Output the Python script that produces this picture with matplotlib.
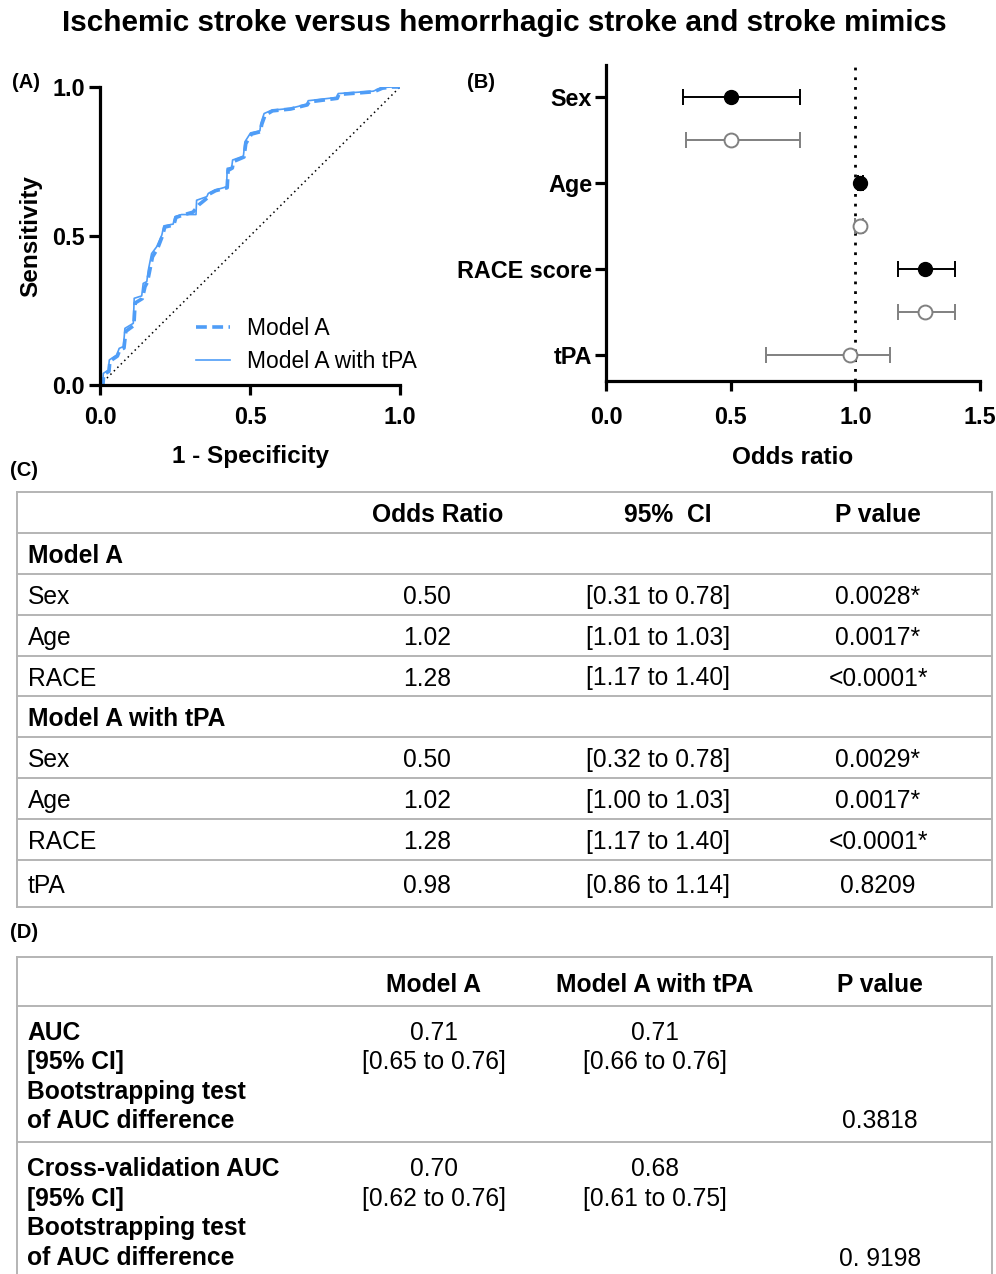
import matplotlib
matplotlib.use("Agg")
import matplotlib.pyplot as plt

plt.rcParams['font.family'] = ['Liberation Sans', 'DejaVu Sans']

W, H = 996, 1274

# ROC curve, Model A with tPA (solid)
fpr_tpa = [0.0, 0.009, 0.011, 0.028, 0.031, 0.056, 0.064, 0.078, 0.083, 0.111, 0.114,
           0.139, 0.144, 0.156, 0.161, 0.172, 0.189, 0.206, 0.213, 0.244, 0.250, 0.272,
           0.320, 0.322, 0.356, 0.361, 0.383, 0.422, 0.424, 0.439, 0.442, 0.478, 0.483,
           0.502, 0.533, 0.536, 0.547, 0.572, 0.633, 0.689, 0.694, 0.789, 0.794, 0.911,
           0.939, 0.972, 1.0]
tpr_tpa = [0.0, 0.0, 0.039, 0.050, 0.084, 0.101, 0.123, 0.129, 0.190, 0.207, 0.291,
           0.299, 0.341, 0.347, 0.385, 0.441, 0.464, 0.503, 0.534, 0.540, 0.565, 0.572,
           0.572, 0.620, 0.632, 0.643, 0.654, 0.665, 0.727, 0.730, 0.755, 0.768, 0.816,
           0.846, 0.853, 0.877, 0.911, 0.922, 0.928, 0.942, 0.954, 0.965, 0.978, 0.986,
           0.998, 1.0, 1.0]

# ROC curve, Model A (dashed)
fpr_a = [0.0, 0.010, 0.012, 0.030, 0.033, 0.058, 0.066, 0.080, 0.086, 0.113, 0.117,
         0.141, 0.150, 0.158, 0.165, 0.175, 0.192, 0.208, 0.216, 0.246, 0.253, 0.275,
         0.310, 0.330, 0.358, 0.363, 0.385, 0.424, 0.427, 0.441, 0.445, 0.480, 0.486,
         0.505, 0.535, 0.539, 0.550, 0.575, 0.635, 0.691, 0.697, 0.791, 0.796, 0.913,
         0.941, 0.974, 1.0]
tpr_a = [0.0, 0.0, 0.035, 0.046, 0.080, 0.097, 0.118, 0.124, 0.180, 0.200, 0.275,
         0.290, 0.330, 0.345, 0.380, 0.430, 0.458, 0.500, 0.530, 0.537, 0.562, 0.570,
         0.580, 0.605, 0.628, 0.640, 0.652, 0.662, 0.720, 0.728, 0.750, 0.765, 0.810,
         0.842, 0.850, 0.874, 0.905, 0.920, 0.926, 0.940, 0.950, 0.962, 0.975, 0.984,
         0.996, 1.0, 1.0]

# Forest plot
forest_labels = ["Sex", "Age", "RACE score", "tPA"]
or_model_a = [0.50, 1.02, 1.28]
lo_model_a = [0.31, 1.01, 1.17]
hi_model_a = [0.78, 1.03, 1.40]
or_model_tpa = [0.50, 1.02, 1.28, 0.98]
lo_model_tpa = [0.32, 1.00, 1.17, 0.64]
hi_model_tpa = [0.78, 1.03, 1.40, 1.14]

# Table C
c_header = ["Odds Ratio", "95%  CI", "P value"]
c_groups = ["Model A", "Model A with tPA"]
c_vars_a = ["Sex", "Age", "RACE"]
c_or_a = ["0.50", "1.02", "1.28"]
c_ci_a = ["[0.31 to 0.78]", "[1.01 to 1.03]", "[1.17 to 1.40]"]
c_p_a = ["0.0028*", "0.0017*", "<0.0001*"]
c_vars_b = ["Sex", "Age", "RACE", "tPA"]
c_or_b = ["0.50", "1.02", "1.28", "0.98"]
c_ci_b = ["[0.32 to 0.78]", "[1.00 to 1.03]", "[1.17 to 1.40]", "[0.86 to 1.14]"]
c_p_b = ["0.0029*", "0.0017*", "<0.0001*", "0.8209"]

# Table D
d_header = ["Model A", "Model A with tPA", "P value"]
d_row_labels = [["AUC", "[95% CI]", "Bootstrapping test", "of AUC difference"],
                ["Cross-validation AUC", "[95% CI]", "Bootstrapping test", "of AUC difference"]]
d_auc_a = ["0.71", "0.70"]
d_ci_a = ["[0.65 to 0.76]", "[0.62 to 0.76]"]
d_auc_tpa = ["0.71", "0.68"]
d_ci_tpa = ["[0.66 to 0.76]", "[0.61 to 0.75]"]
d_p = ["0.3818", "0. 9198"]

blue = '#4f9df7'
grid_col = '#b4b4b4'
FS = 17.7
DY = 2.5  # nudge so cap height sits centred in the row


def px_rect(left, top, right, bottom):
    return [left / W, 1 - bottom / H, (right - left) / W, (bottom - top) / H]


fig = plt.figure(figsize=(W / 100, H / 100), dpi=100)

# overlay in pixel coordinates for titles and tables
ov = fig.add_axes([0, 0, 1, 1], zorder=0)
ov.set_xlim(0, W)
ov.set_ylim(H, 0)
ov.axis('off')

ov.text(504, 23, "Ischemic stroke versus hemorrhagic stroke and stroke mimics",
        ha='center', va='center', fontsize=21.4, fontweight='bold')
for lab, x, y in [("(A)", 12, 83), ("(B)", 467, 82), ("(C)", 10, 470), ("(D)", 10, 933)]:
    ov.text(x, y, lab, ha='left', va='center', fontsize=14.5, fontweight='bold')

# ---- panel A: ROC
axA = fig.add_axes(px_rect(100, 87, 400, 385))
axA.plot([0, 1], [0, 1], color='black', ls=(0, (1, 2.2)), lw=1.1)
axA.plot(fpr_a, tpr_a, color=blue, lw=2.6, ls=(0, (3, 1.5)), label='Model A')
axA.plot(fpr_tpa, tpr_tpa, color=blue, lw=1.2, label='Model A with tPA')
axA.set_xlim(0, 1)
axA.set_ylim(0, 1)
axA.set_xticks([0, 0.5, 1.0])
axA.set_yticks([0, 0.5, 1.0])
axA.set_xticklabels(["0.0", "0.5", "1.0"])
axA.set_yticklabels(["0.0", "0.5", "1.0"])
for s in ['top', 'right']:
    axA.spines[s].set_visible(False)
for s in ['left', 'bottom']:
    axA.spines[s].set_linewidth(2.3)
axA.tick_params(axis='x', length=7, width=2.3, pad=8, labelsize=16.8)
axA.tick_params(axis='y', length=8, width=2.3, pad=3, labelsize=16.8)
for t in axA.get_xticklabels() + axA.get_yticklabels():
    t.set_fontweight('bold')
axA.set_xlabel("1 - Specificity", fontsize=17.5, fontweight='bold', labelpad=12)
axA.set_ylabel("Sensitivity", fontsize=17.5, fontweight='bold', labelpad=7)
axA.legend(loc='lower left', bbox_to_anchor=(0.25, -0.03), frameon=False, fontsize=16.5,
           handlelength=1.5, handletextpad=0.75, labelspacing=0.45)

# ---- panel B: forest plot
axB = fig.add_axes(px_rect(606, 65, 980, 381))
pos_filled = [7, 5, 3]
pos_open = [6, 4, 2, 1]
tick_pos = [7, 5, 3, 1]
xerr_a = [[o - l for o, l in zip(or_model_a, lo_model_a)],
          [h - o for o, h in zip(or_model_a, hi_model_a)]]
xerr_b = [[o - l for o, l in zip(or_model_tpa, lo_model_tpa)],
          [h - o for o, h in zip(or_model_tpa, hi_model_tpa)]]
axB.axvline(1.0, color='black', ls=(0, (1, 2.5)), lw=2.0, zorder=1)
axB.errorbar(or_model_a, pos_filled, xerr=xerr_a, fmt='o', color='black', ms=10,
             capsize=6, elinewidth=1.4, capthick=1.4, zorder=3)
axB.errorbar(or_model_tpa, pos_open, xerr=xerr_b, fmt='o', color='#808080', mfc='white',
             mec='#808080', mew=1.4, ms=10, capsize=6, elinewidth=1.4, capthick=1.4, zorder=3)
axB.set_xlim(0, 1.5)
axB.set_ylim(0.395, 7.744)
axB.set_xticks([0, 0.5, 1.0, 1.5])
axB.set_xticklabels(["0.0", "0.5", "1.0", "1.5"])
axB.set_yticks(tick_pos)
axB.set_yticklabels(forest_labels)
for s in ['top', 'right']:
    axB.spines[s].set_visible(False)
for s in ['left', 'bottom']:
    axB.spines[s].set_linewidth(2.3)
axB.tick_params(axis='x', length=7, width=2.3, pad=11, labelsize=16.8)
axB.tick_params(axis='y', length=8, width=2.3, pad=2, labelsize=16.8)
for t in axB.get_xticklabels() + axB.get_yticklabels():
    t.set_fontweight('bold')
axB.set_xlabel("Odds ratio", fontsize=17.5, fontweight='bold', labelpad=12)

# ---- table C
c_lines = [492, 533, 574, 615, 656, 696, 737, 778, 819, 860, 907]
for y in c_lines:
    ov.plot([17, 992], [y, y], color=grid_col, lw=1.4)
ov.plot([17, 17], [492, 907], color=grid_col, lw=1.4)
ov.plot([992, 992], [492, 907], color=grid_col, lw=1.4)

hdr_x = [438, 668, 878]
val_x = [427, 658, 878]
ymid = [(a + b) / 2 + DY for a, b in zip(c_lines[:-1], c_lines[1:])]
for x, t in zip(hdr_x, c_header):
    ov.text(x, ymid[0], t, ha='center', va='center', fontsize=FS, fontweight='bold')
rows_c = [(c_groups[0], None)] + list(zip(c_vars_a, zip(c_or_a, c_ci_a, c_p_a))) + \
         [(c_groups[1], None)] + list(zip(c_vars_b, zip(c_or_b, c_ci_b, c_p_b)))
for y, (lab, vals) in zip(ymid[1:], rows_c):
    if vals is None:
        ov.text(28, y, lab, ha='left', va='center', fontsize=FS, fontweight='bold')
    else:
        ov.text(28, y, lab, ha='left', va='center', fontsize=FS)
        for x, v in zip(val_x, vals):
            ov.text(x, y, v, ha='center', va='center', fontsize=FS)

# ---- table D
for y in [957, 1006, 1142]:
    ov.plot([17, 992], [y, y], color=grid_col, lw=1.4)
ov.plot([17, 17], [957, H], color=grid_col, lw=1.4)
ov.plot([992, 992], [957, H], color=grid_col, lw=1.4)
d_x = [434, 655, 880]
for x, t in zip(d_x, d_header):
    ov.text(x, 982 + DY, t, ha='center', va='center', fontsize=FS, fontweight='bold')
for r, y0 in enumerate([1030 + DY, 1167 + DY]):
    for k, lab in enumerate(d_row_labels[r]):
        ov.text(27, y0 + 29.5 * k, lab, ha='left', va='center', fontsize=FS, fontweight='bold')
    ov.text(d_x[0], y0, d_auc_a[r], ha='center', va='center', fontsize=FS)
    ov.text(d_x[0], y0 + 29.5, d_ci_a[r], ha='center', va='center', fontsize=FS)
    ov.text(d_x[1], y0, d_auc_tpa[r], ha='center', va='center', fontsize=FS)
    ov.text(d_x[1], y0 + 29.5, d_ci_tpa[r], ha='center', va='center', fontsize=FS)
    ov.text(d_x[2], y0 + 89, d_p[r], ha='center', va='center', fontsize=FS)

fig.savefig("out.png", dpi=100)
